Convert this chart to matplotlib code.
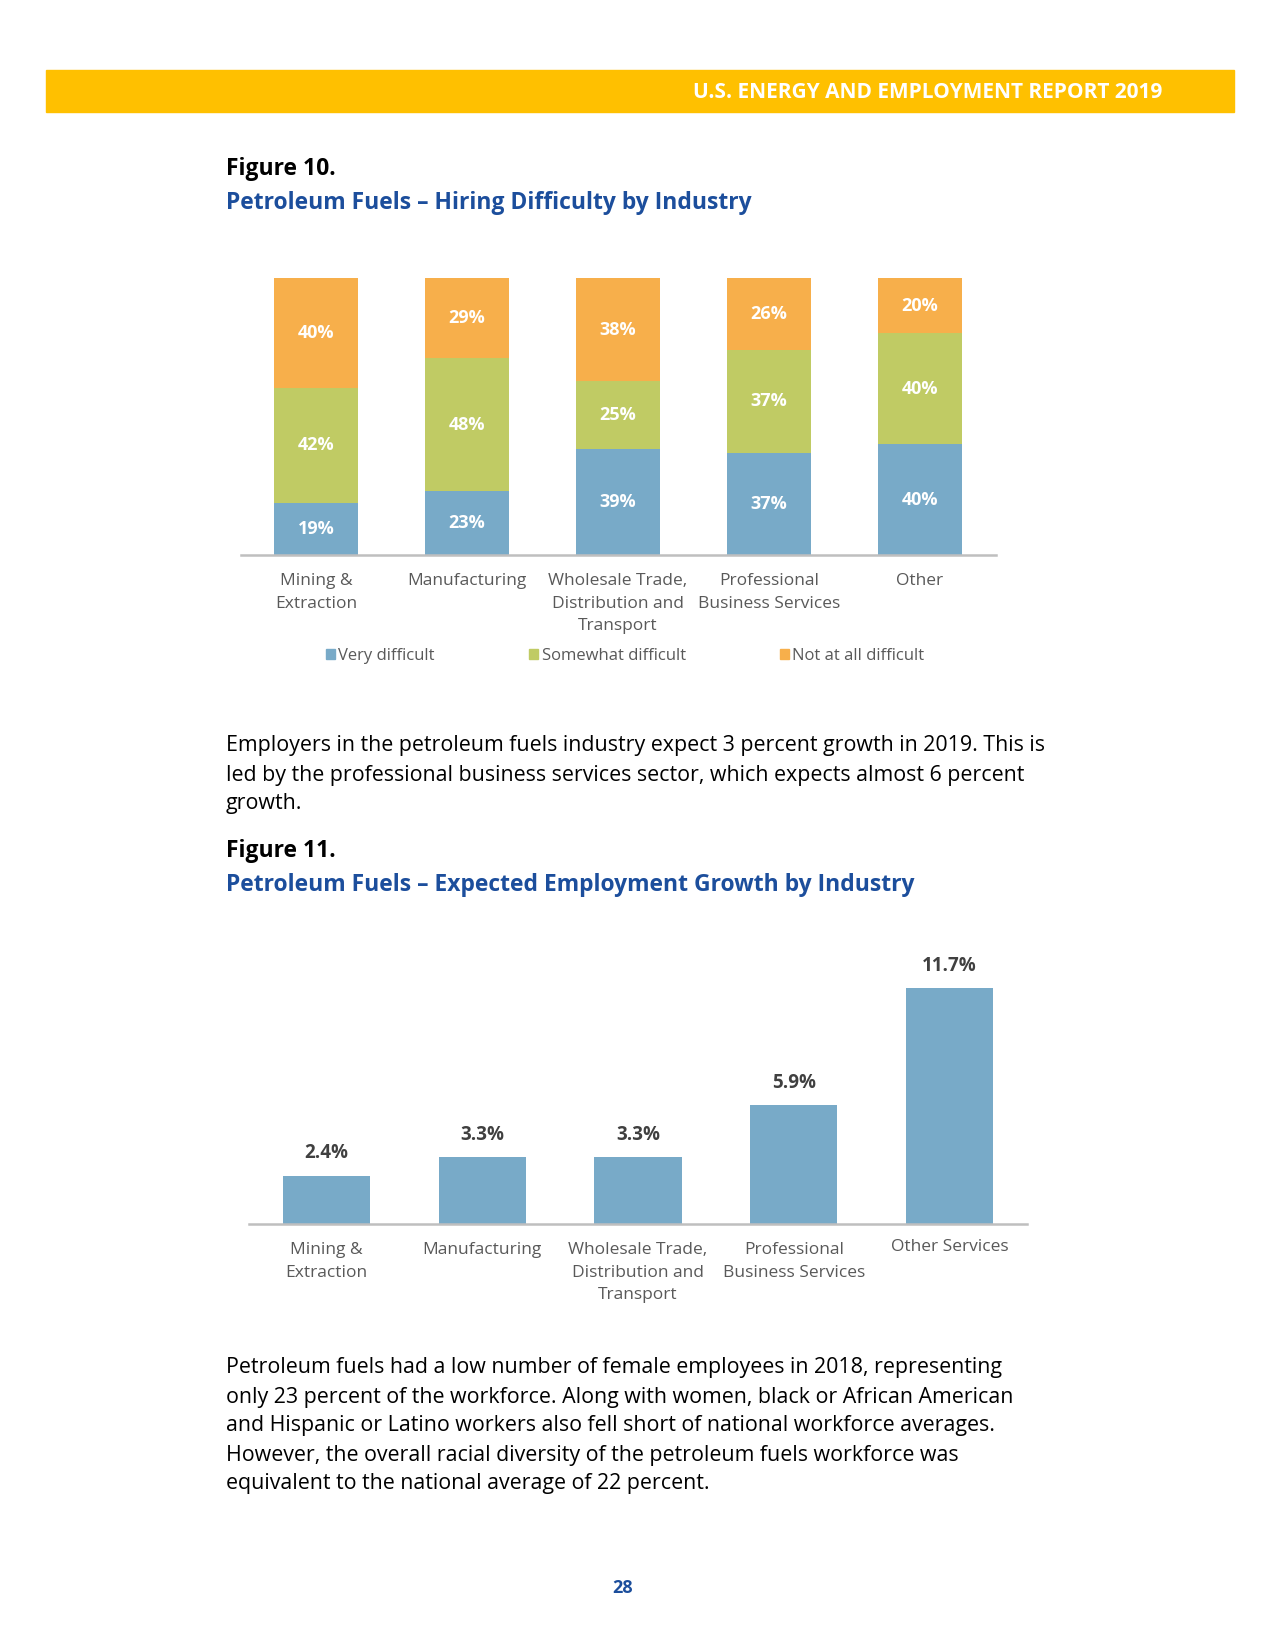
"""Petroleum fuels page: hiring difficulty and expected growth by industry."""
import matplotlib
matplotlib.use("Agg")
import matplotlib.pyplot as plt
from matplotlib.patches import Rectangle, Patch
import numpy as np

W, H = 1275, 1650

industries_1 = ["Mining &\nExtraction", "Manufacturing", "Wholesale Trade,\nDistribution and\nTransport",
                "Professional\nBusiness Services", "Other"]
very_difficult = [19, 23, 39, 37, 40]
somewhat_difficult = [42, 48, 25, 37, 40]
not_difficult = [40, 29, 38, 26, 20]
series_names = ["Very difficult", "Somewhat difficult", "Not at all difficult"]

industries_2 = ["Mining &\nExtraction", "Manufacturing", "Wholesale Trade,\nDistribution and\nTransport",
                "Professional\nBusiness Services", "Other Services"]
growth = [2.4, 3.3, 3.3, 5.9, 11.7]

BLUE = "#78AAC8"
GREEN = "#C0CB64"
ORANGE = "#F7AF4B"
YELLOW = "#FFC000"
NAVY = "#1C4E9C"
TICK_GRAY = "#595959"
LINE_GRAY = "#BFBFBF"

plt.rcParams["font.family"] = ["Open Sans", "DejaVu Sans"]


def fx(x):
    return x / W


def fy(y):
    return 1 - y / H


fig = plt.figure(figsize=(W / 100, H / 100), dpi=100)
fig.patch.set_facecolor("white")

# header band
fig.patches.append(Rectangle((fx(46), fy(112)), fx(1234) - fx(46), (112 - 70) / H,
                             transform=fig.transFigure, color=YELLOW, zorder=0))
fig.text(fx(1162), fy(93), "U.S. ENERGY AND EMPLOYMENT REPORT 2019", color="white",
         fontsize=15, fontweight="bold", ha="right", va="center")

fig.text(fx(226), fy(169), "Figure 10.", fontsize=16.5, fontweight="bold", color="black", va="center")
fig.text(fx(226), fy(203), "Petroleum Fuels \u2013 Hiring Difficulty by Industry", fontsize=16.5,
         fontweight="bold", color=NAVY, va="center")


def style_axis(ax):
    for side in ["top", "left", "right"]:
        ax.spines[side].set_visible(False)
    ax.spines["bottom"].set_color(LINE_GRAY)
    ax.spines["bottom"].set_linewidth(1.8)
    ax.set_yticks([])
    ax.tick_params(axis="x", length=0, pad=13, labelsize=12.5, labelcolor=TICK_GRAY)
    for lab in ax.get_xticklabels():
        lab.set_linespacing(1.56)
        lab.set_va("top")


# Figure 10: 100% stacked columns
ax1 = fig.add_axes([fx(240.5), fy(555), fx(995.5) - fx(240.5), (555 - 278) / H])
x = np.arange(len(industries_1))
data = np.array([very_difficult, somewhat_difficult, not_difficult], dtype=float)
shares = data / data.sum(axis=0) * 100
bottom = np.zeros(len(x))
for vals, share, color in zip(data, shares, [BLUE, GREEN, ORANGE]):
    ax1.bar(x, share, 0.556, bottom=bottom, color=color, zorder=2)
    for xi, b, s, v in zip(x, bottom, share, vals):
        ax1.text(xi, b + s / 2, f"{v:.0f}%", ha="center", va="center", color="white",
                 fontsize=13, fontweight="bold")
    bottom += share
ax1.set_xlim(-0.5, 4.5)
ax1.set_ylim(0, 100)
ax1.set_xticks(x, industries_1)
style_axis(ax1)

handles = [Patch(color=c) for c in [BLUE, GREEN, ORANGE]]
leg = fig.legend(handles, series_names, loc="center left", bbox_to_anchor=(fx(326), fy(656)),
                 ncol=3, frameon=False, fontsize=12, handlelength=0.55, handleheight=0.55,
                 handletextpad=0.2, columnspacing=5.65, borderpad=0, borderaxespad=0)
for t in leg.get_texts():
    t.set_color(TICK_GRAY)

para1 = ["Employers in the petroleum fuels industry expect 3 percent growth in 2019. This is",
         "led by the professional business services sector, which expects almost 6 percent",
         "growth."]
for i, line in enumerate(para1):
    fig.text(fx(226), fy(746 + i * 29), line, fontsize=15.4, color="black", va="center")

fig.text(fx(226), fy(851), "Figure 11.", fontsize=16.5, fontweight="bold", color="black", va="center")
fig.text(fx(226), fy(885), "Petroleum Fuels \u2013 Expected Employment Growth by Industry", fontsize=16.5,
         fontweight="bold", color=NAVY, va="center")

# Figure 11: expected growth columns
ax2 = fig.add_axes([fx(248.6), fy(1224), fx(1027.4) - fx(248.6), 13 * 20.17 / H])
x2 = np.arange(len(industries_2))
ax2.bar(x2, growth, 0.56, color=BLUE, zorder=2)
for xi, v in zip(x2, growth):
    ax2.annotate(f"{v}%", (xi, v), xytext=(0, 16), textcoords="offset points", ha="center",
                 va="center", fontsize=13.5, fontweight="bold", color="#404040")
ax2.set_xlim(-0.5, 4.5)
ax2.set_ylim(0, 13)
ax2.set_xticks(x2, industries_2)
style_axis(ax2)
ax2.get_xticklabels()[-1].set_y(0.01)

para2 = ["Petroleum fuels had a low number of female employees in 2018, representing",
         "only 23 percent of the workforce. Along with women, black or African American",
         "and Hispanic or Latino workers also fell short of national workforce averages.",
         "However, the overall racial diversity of the petroleum fuels workforce was",
         "equivalent to the national average of 22 percent."]
for i, line in enumerate(para2):
    fig.text(fx(226), fy(1368 + i * 29), line, fontsize=15.4, color="black", va="center")

fig.text(fx(623), fy(1588), "28", fontsize=13, fontweight="bold", color=NAVY, ha="center", va="center")

fig.savefig("out.png", dpi=100, facecolor="white")
